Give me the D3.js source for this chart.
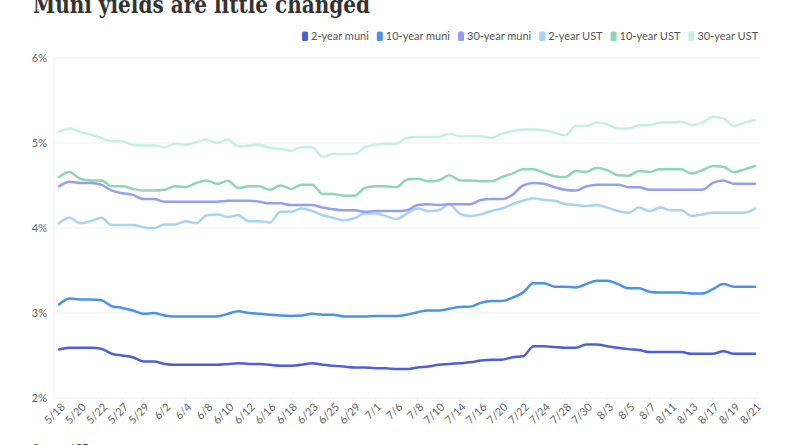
<!DOCTYPE html>
<html>
<head>
<meta charset="utf-8">
<script src="https://cdn.jsdelivr.net/npm/d3@7"></script>
<style>
  body { margin: 0; background: #fff; }
  svg { display: block; }
  .tickLabel { font-family: Lato, "Open Sans", sans-serif; font-size: 11px; fill: #666; }
  .legendText { font-family: Lato, "Open Sans", sans-serif; font-size: 11px; fill: #555; }
</style>
</head>
<body>
<svg id="chart" width="800" height="445"></svg>
<script>
// ***** Data *****
const dates = [
  "5/18", "5/19", "5/20", "5/21", "5/22", "5/26", "5/27", "5/28", "5/29",
  "6/1", "6/2", "6/3", "6/4", "6/5", "6/8", "6/9", "6/10", "6/11", "6/12",
  "6/15", "6/16", "6/17", "6/18", "6/22", "6/23", "6/24", "6/25", "6/26",
  "6/29", "6/30", "7/1", "7/2", "7/6", "7/7", "7/8", "7/9", "7/10",
  "7/13", "7/14", "7/15", "7/16", "7/17", "7/20", "7/21", "7/22", "7/23",
  "7/24", "7/27", "7/28", "7/29", "7/30", "7/31", "8/3", "8/4", "8/5",
  "8/6", "8/7", "8/10", "8/11", "8/12", "8/13", "8/14", "8/17", "8/18",
  "8/19", "8/20", "8/21"
];

// only every other trading day gets a label
const tickLabels = [
  "5/18", "5/20", "5/22", "5/27", "5/29", "6/2", "6/4", "6/8", "6/10",
  "6/12", "6/16", "6/18", "6/23", "6/25", "6/29", "7/1", "7/6", "7/8",
  "7/10", "7/14", "7/16", "7/20", "7/22", "7/24", "7/28", "7/30", "8/3",
  "8/5", "8/7", "8/11", "8/13", "8/17", "8/19", "8/21"
];

const yTicks = [2, 3, 4, 5, 6];

const muni2 = [
  2.57, 2.59, 2.59, 2.59, 2.58, 2.52, 2.50, 2.48, 2.43, 2.43, 2.40, 2.39,
  2.39, 2.39, 2.39, 2.39, 2.40, 2.41, 2.40, 2.40, 2.39, 2.38, 2.38, 2.39,
  2.41, 2.39, 2.38, 2.37, 2.36, 2.36, 2.35, 2.35, 2.34, 2.34, 2.36, 2.37,
  2.39, 2.40, 2.41, 2.42, 2.44, 2.45, 2.45, 2.48, 2.49, 2.61, 2.61, 2.60,
  2.59, 2.59, 2.63, 2.63, 2.61, 2.59, 2.575, 2.565, 2.54, 2.54, 2.54, 2.54,
  2.52, 2.52, 2.52, 2.55, 2.52, 2.52, 2.52
];

const muni10 = [
  3.10, 3.17, 3.16, 3.16, 3.15, 3.08, 3.06, 3.03, 2.99, 3.00, 2.97, 2.96,
  2.96, 2.96, 2.96, 2.96, 2.99, 3.02, 3.00, 2.99, 2.98, 2.97, 2.965, 2.97,
  2.99, 2.98, 2.98, 2.96, 2.96, 2.96, 2.965, 2.965, 2.965, 2.98, 3.01, 3.03,
  3.03, 3.05, 3.07, 3.075, 3.12, 3.14, 3.14, 3.18, 3.24, 3.35, 3.35, 3.31,
  3.31, 3.30, 3.34, 3.38, 3.38, 3.34, 3.29, 3.29, 3.25, 3.24, 3.24, 3.24,
  3.23, 3.23, 3.28, 3.34, 3.31, 3.31, 3.31
];

const muni30 = [
  4.49, 4.545, 4.53, 4.53, 4.51, 4.44, 4.41, 4.39, 4.34, 4.34, 4.31, 4.31,
  4.31, 4.31, 4.31, 4.31, 4.32, 4.32, 4.32, 4.31, 4.29, 4.29, 4.27, 4.27,
  4.27, 4.24, 4.22, 4.21, 4.21, 4.19, 4.20, 4.20, 4.20, 4.21, 4.27, 4.28,
  4.27, 4.28, 4.28, 4.28, 4.33, 4.34, 4.34, 4.39, 4.50, 4.53, 4.52, 4.48,
  4.45, 4.44, 4.49, 4.51, 4.51, 4.51, 4.48, 4.48, 4.45, 4.45, 4.45, 4.45,
  4.45, 4.45, 4.53, 4.56, 4.52, 4.52, 4.52
];

const ust2 = [
  4.055, 4.12, 4.055, 4.08, 4.12, 4.035, 4.035, 4.035, 4.01, 4.00, 4.04, 4.04,
  4.08, 4.055, 4.15, 4.16, 4.13, 4.15, 4.08, 4.08, 4.065, 4.19, 4.19, 4.23,
  4.20, 4.15, 4.12, 4.09, 4.115, 4.17, 4.17, 4.14, 4.105, 4.17, 4.23, 4.20,
  4.21, 4.28, 4.17, 4.14, 4.16, 4.20, 4.23, 4.28, 4.32, 4.35, 4.33, 4.32,
  4.28, 4.27, 4.26, 4.27, 4.24, 4.20, 4.18, 4.24, 4.20, 4.24, 4.21, 4.21,
  4.14, 4.16, 4.18, 4.18, 4.18, 4.18, 4.23
];

const ust10 = [
  4.60, 4.66, 4.58, 4.56, 4.56, 4.49, 4.49, 4.46, 4.44, 4.44, 4.45, 4.49,
  4.48, 4.53, 4.56, 4.52, 4.555, 4.47, 4.49, 4.49, 4.45, 4.50, 4.46, 4.51,
  4.51, 4.40, 4.40, 4.38, 4.38, 4.47, 4.49, 4.49, 4.48, 4.57, 4.58, 4.55,
  4.56, 4.62, 4.56, 4.56, 4.55, 4.55, 4.60, 4.64, 4.69, 4.69, 4.65, 4.61,
  4.60, 4.67, 4.66, 4.71, 4.68, 4.62, 4.615, 4.67, 4.66, 4.69, 4.69, 4.69,
  4.64, 4.68, 4.73, 4.72, 4.655, 4.69, 4.73
];

const ust30 = [
  5.13, 5.17, 5.13, 5.10, 5.06, 5.02, 5.02, 4.98, 4.97, 4.97, 4.95, 4.99,
  4.98, 5.01, 5.04, 5.00, 5.04, 4.96, 4.97, 4.98, 4.94, 4.93, 4.91, 4.95,
  4.95, 4.84, 4.87, 4.87, 4.87, 4.95, 4.98, 4.99, 4.99, 5.06, 5.07, 5.07,
  5.07, 5.11, 5.08, 5.08, 5.08, 5.06, 5.11, 5.14, 5.16, 5.16, 5.15, 5.12,
  5.09, 5.20, 5.20, 5.24, 5.22, 5.17, 5.17, 5.21, 5.21, 5.24, 5.24, 5.25,
  5.21, 5.24, 5.31, 5.29, 5.20, 5.24, 5.27
];

const seriesNames = [
  "2-year muni", "10-year muni", "30-year muni",
  "2-year UST", "10-year UST", "30-year UST"
];
const seriesValues = [muni2, muni10, muni30, ust2, ust10, ust30];
const seriesColors = [
  "#4d5fdb", "#4a93ea", "#939ff0", "#a8d2f6", "#8fd6b5", "#c6f0e1"
];

// ***** Setup *****
const svg = d3.select("#chart");

const xScale = d3.scalePoint().domain(dates).range([59, 755]);
const yScale = d3.scaleLinear().domain([2, 6]).range([398, 58]);

const gridLeft = 54;
const gridRight = 760;

// ***** Title *****
svg
  .append("text")
  .attr("x", 33)
  .attr("y", 12.5)
  .attr("textLength", 337)
  .attr("lengthAdjust", "spacingAndGlyphs")
  .style("font-family", "'DejaVu Serif', 'Liberation Serif', serif")
  .style("font-weight", "bold")
  .style("font-size", "24px")
  .style("fill", "#333")
  .text("Muni yields are little changed");

// ***** Gridlines and y labels *****
svg
  .selectAll(".grid")
  .data(yTicks)
  .enter()
  .append("line")
  .attr("class", "grid")
  .attr("x1", gridLeft)
  .attr("x2", gridRight)
  .attr("y1", d => yScale(d))
  .attr("y2", d => yScale(d))
  .style("stroke", "#efefef")
  .style("stroke-width", 1);

svg
  .append("line")
  .attr("x1", gridLeft)
  .attr("x2", gridLeft)
  .attr("y1", yScale(6))
  .attr("y2", yScale(2))
  .style("stroke", "#f2f2f2");

svg
  .selectAll(".yLabel")
  .data(yTicks)
  .enter()
  .append("text")
  .attr("class", "tickLabel")
  .attr("x", 47)
  .attr("y", d => yScale(d))
  .attr("dy", "0.35em")
  .attr("text-anchor", "end")
  .text(d => d + "%");

// ***** X axis labels *****
const xLabels = svg
  .selectAll(".xLabel")
  .data(tickLabels)
  .enter()
  .append("g")
  .attr("class", "xLabel")
  .attr("transform", function(d) {
    return "translate(" + xScale(d) + "," + yScale(2) + ")";
  });

xLabels
  .append("line")
  .attr("y1", 0)
  .attr("y2", 5)
  .style("stroke", "#eee");

xLabels
  .append("text")
  .attr("class", "tickLabel")
  .attr("text-anchor", "end")
  .attr("transform", "translate(4,7) rotate(-45)")
  .attr("dy", "0.35em")
  .text(d => d);

// ***** Lines *****
const line = d3
  .line()
  .x((d, i) => xScale(dates[i]))
  .y(d => yScale(d))
  .curve(d3.curveMonotoneX);

// draw treasuries first so munis sit on top
const drawOrder = [5, 4, 3, 2, 1, 0];
svg
  .selectAll(".series")
  .data(drawOrder)
  .enter()
  .append("path")
  .attr("class", "series")
  .attr("d", k => line(seriesValues[k]))
  .style("fill", "none")
  .style("stroke", k => seriesColors[k])
  .style("stroke-width", 2.5)
  .style("stroke-linejoin", "round")
  .style("stroke-linecap", "round");

// ***** Legend *****
const legend = svg.append("g").attr("class", "legend");
let legendX = 302;
seriesNames.forEach(function(name, i) {
  legend
    .append("rect")
    .attr("x", legendX)
    .attr("y", 31.5)
    .attr("width", 6)
    .attr("height", 9.5)
    .attr("rx", 1.5)
    .style("fill", seriesColors[i]);

  const label = legend
    .append("text")
    .attr("class", "legendText")
    .attr("x", legendX + 9)
    .attr("y", 40)
    .text(name);

  legendX += 9 + label.node().getComputedTextLength() + 8;
});

// ***** Source *****
svg
  .append("text")
  .attr("class", "legendText")
  .attr("x", 33)
  .attr("y", 452)
  .text("Source: ICE");
</script>
</body>
</html>
